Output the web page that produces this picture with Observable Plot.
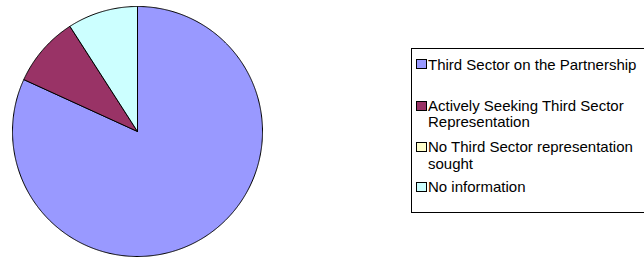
<!DOCTYPE html>
<html>
<head>
<meta charset="utf-8">
<script src="https://cdn.jsdelivr.net/npm/d3@7"></script>
<script src="https://cdn.jsdelivr.net/npm/@observablehq/plot@0.6"></script>
<style>
  html, body { margin: 0; padding: 0; background: #fff; overflow: hidden; }
  #wrap { position: relative; width: 644px; height: 258px; overflow: hidden; }
  #wrap svg { position: absolute; left: 0; top: 0; }
  #legend {
    position: absolute; left: 411px; top: 48px; width: 260px; height: 165px;
    border: 1px solid #000; box-sizing: border-box;
    font-family: "Liberation Sans", Arial, sans-serif; font-size: 15px; color: #000;
  }
  .item { position: absolute; left: 16px; white-space: nowrap; }
  .sw { position: absolute; left: 4px; width: 11px; height: 10px; border: 1px solid #000; box-sizing: border-box; }
</style>
</head>
<body>
<div id="wrap"><div id="legend"></div></div>
<script>
const categories = [
  "Third Sector on the Partnership",
  "Actively Seeking Third Sector Representation",
  "No Third Sector representation sought",
  "No information"
];
const values = [18, 2, 0, 2];
const colors = ["#9999FF", "#993366", "#FFFFCC", "#CCFFFF"];
const legendLines = [
  ["Third Sector on the Partnership"],
  ["Actively Seeking Third Sector", "Representation"],
  ["No Third Sector representation", "sought"],
  ["No information"]
];
const legendBaselines = [69.5, 111.5, 152.5, 192];
const legendLineHeights = [15, 16, 16.5, 15];

const data = categories.map((name, i) => ({name, value: values[i]}));
const arcs = d3.pie().sort(null).value(d => d.value).startAngle(0).endAngle(2 * Math.PI)(data);

// Closed slice outlines in unit coordinates (angles clockwise from 12 o'clock)
const pts = [];
arcs.forEach(a => {
  if (a.endAngle - a.startAngle <= 0) return;
  const name = a.data.name;
  pts.push({name, x: 0, y: 0});
  const n = Math.max(2, Math.ceil((a.endAngle - a.startAngle) / (Math.PI / 360)));
  for (let k = 0; k <= n; k++) {
    const t = a.startAngle + (a.endAngle - a.startAngle) * k / n;
    pts.push({name, x: Math.sin(t), y: Math.cos(t)});
  }
  pts.push({name, x: 0, y: 0});
});

const chart = Plot.plot({
  width: 644,
  height: 258,
  margin: 0,
  style: {background: "transparent"},
  x: {domain: [-1, 1], range: [12, 262], axis: null},
  y: {domain: [-1, 1], range: [256, 6], axis: null},
  color: {domain: categories, range: colors},
  marks: [
    Plot.line(pts, {x: "x", y: "y", z: "name", fill: "name", stroke: "#000", strokeWidth: 1, strokeLinejoin: "miter", curve: "linear"})
  ]
});
const wrap = document.getElementById("wrap");
wrap.insertBefore(chart, wrap.firstChild);

// Legend
const legend = document.getElementById("legend");
const boxTop = 48;
categories.forEach((name, i) => {
  const base = legendBaselines[i];
  const lh = legendLineHeights[i];
  const sw = document.createElement("div");
  sw.className = "sw";
  sw.style.background = colors[i];
  sw.style.top = (base - 10.5 - boxTop - 1) + "px";
  legend.appendChild(sw);
  const it = document.createElement("div");
  it.className = "item";
  it.style.lineHeight = lh + "px";
  // baseline offset from line-box top for Liberation Sans (ascent .905, descent .212)
  const off = (lh - 1.117 * 15) / 2 + 0.905 * 15;
  it.style.top = (base - off - boxTop - 1) + "px";
  it.innerHTML = legendLines[i].join("<br>");
  legend.appendChild(it);
});
</script>
</body>
</html>
